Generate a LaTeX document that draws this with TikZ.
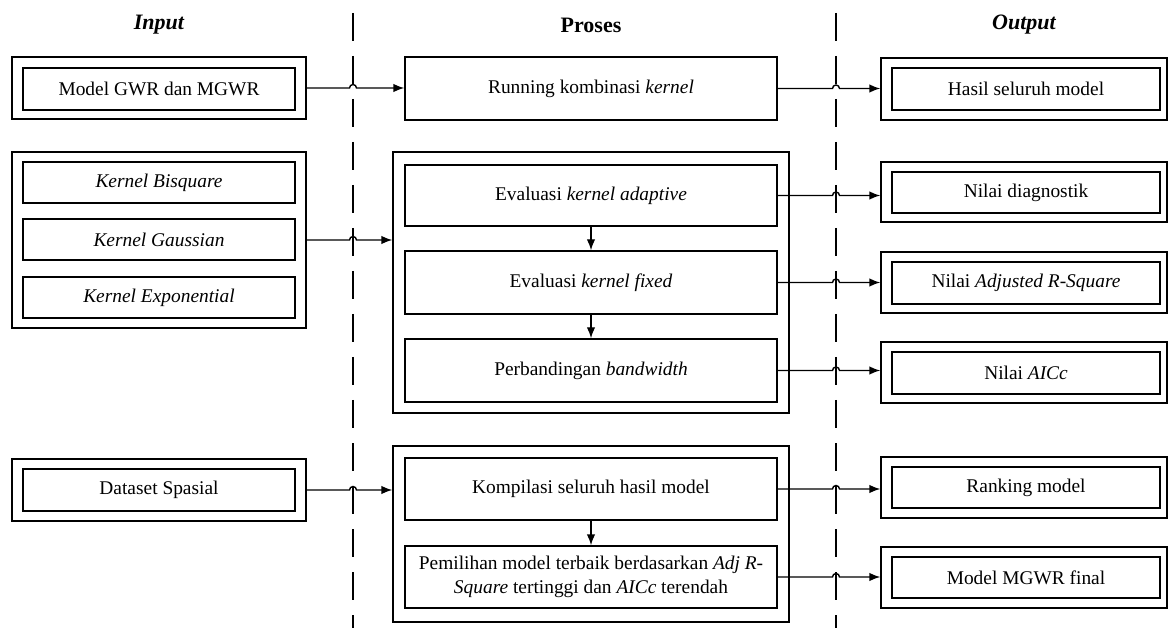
\documentclass[tikz,border=0pt]{standalone}
\usepackage{fontspec}
\setmainfont{Liberation Serif}
\usetikzlibrary{arrows.meta,calc}
\tikzset{
  bx/.style={draw, line width=1.4pt, rectangle, inner sep=2pt, align=center,
    font=\fontsize{19.4}{23.5}\selectfont},
  hdr/.style={font=\fontsize{22}{26}\selectfont\bfseries},
  conn/.style={line width=1.4pt, -{Latex[length=11pt,width=8.5pt]}},
  divider/.style={line width=1.7pt, dash pattern=on 28pt off 15pt},
}
\newcommand\hopto[3]{%
  \draw[conn] (#1) -- ($(#1 -| #3)+(-3.5,0)$) arc[start angle=180,end angle=360,radius=3.5] -- (#1 -| #2);}
\begin{document}
\begin{tikzpicture}[x=1pt,y=-1pt]
\useasboundingbox (0,0) rectangle (1168,628);
% headers
\node[hdr] (hin) at (159,25) {\itshape Input};
\node[hdr] (hpr) at (591,25) {Proses};
\node[hdr] (hout) at (1024,25) {\itshape Output};
% dividers
\coordinate (d1t) at (353,13); \coordinate (d1b) at (353,628);
\coordinate (d2t) at (836,13); \coordinate (d2b) at (836,628);
\draw[divider] (d1t) -- (d1b);
\draw[divider] (d2t) -- (d2b);
% input column
\node[bx, minimum width=294pt, minimum height=62pt] (in1o) at (159,88) {};
\node[bx, minimum width=272pt, minimum height=42pt] (in1) at (159,89) {Model GWR dan MGWR};
\node[bx, minimum width=294pt, minimum height=176pt] (in2o) at (159,240) {};
\node[bx, minimum width=272pt, minimum height=41pt] (in2a) at (159,182.5) {\itshape Kernel Bisquare};
\node[bx, minimum width=272pt, minimum height=41pt] (in2b) at (159,239.5) {\itshape Kernel Gaussian};
\node[bx, minimum width=272pt, minimum height=41pt] (in2c) at (159,297.5) {\itshape Kernel Exponential};
\node[bx, minimum width=294pt, minimum height=62pt] (in3o) at (159,490) {};
\node[bx, minimum width=272pt, minimum height=42pt] (in3) at (159,490) {Dataset Spasial};
% process column
\node[bx, minimum width=372pt, minimum height=63pt] (p1) at (591,88.5) {Running kombinasi \textit{kernel}};
\node[bx, minimum width=396pt, minimum height=261pt] (p2o) at (591,282.5) {};
\node[bx, minimum width=372pt, minimum height=61pt] (p2a) at (591,195.5) {Evaluasi \textit{kernel adaptive}};
\node[bx, minimum width=372pt, minimum height=63pt] (p2b) at (591,282.5) {Evaluasi \textit{kernel fixed}};
\node[bx, minimum width=372pt, minimum height=63pt] (p2c) at (591,370.5) {Perbandingan \textit{bandwidth}};
\node[bx, minimum width=396pt, minimum height=176pt] (p3o) at (591,534) {};
\node[bx, minimum width=372pt, minimum height=62pt] (p3a) at (591,489) {Kompilasi seluruh hasil model};
\node[bx, minimum width=372pt, minimum height=62pt] (p3b) at (591,577) {Pemilihan model terbaik berdasarkan \textit{Adj R-}\\\textit{Square} tertinggi dan \textit{AICc} terendah};
% output column
\node[bx, minimum width=286pt, minimum height=62pt] (o1o) at (1024,89) {};
\node[bx, minimum width=268pt, minimum height=42pt] (o1) at (1026,89) {Hasil seluruh model};
\node[bx, minimum width=286pt, minimum height=60pt] (o2o) at (1024,192) {};
\node[bx, minimum width=268pt, minimum height=41pt] (o2) at (1026,192.5) {Nilai diagnostik};
\node[bx, minimum width=286pt, minimum height=61pt] (o3o) at (1024,282.5) {};
\node[bx, minimum width=268pt, minimum height=42pt] (o3) at (1026,283) {Nilai \textit{Adjusted R-Square}};
\node[bx, minimum width=286pt, minimum height=61pt] (o4o) at (1024,372.5) {};
\node[bx, minimum width=268pt, minimum height=42pt] (o4) at (1026,373) {Nilai \textit{AICc}};
\node[bx, minimum width=286pt, minimum height=61pt] (o5o) at (1024,487.5) {};
\node[bx, minimum width=268pt, minimum height=41pt] (o5) at (1026,487.5) {Ranking model};
\node[bx, minimum width=286pt, minimum height=61pt] (o6o) at (1024,577.5) {};
\node[bx, minimum width=268pt, minimum height=41pt] (o6) at (1026,577.5) {Model MGWR final};
% connectors with hops over the dividers
\hopto{in1o.east}{p1.west}{d1t}
\hopto{p1.east}{o1o.west}{d2t}
\hopto{in2o.east}{p2o.west}{d1t}
\hopto{p2a.east}{o2o.west}{d2t}
\hopto{p2b.east}{o3o.west}{d2t}
\hopto{p2c.east}{o4o.west}{d2t}
\hopto{in3o.east}{p3o.west}{d1t}
\hopto{p3a.east}{o5o.west}{d2t}
\hopto{p3b.east}{o6o.west}{d2t}
% vertical connectors
\draw[conn] (p2a.south) -- (p2b.north);
\draw[conn] (p2b.south) -- (p2c.north);
\draw[conn] (p3a.south) -- (p3b.north);
\end{tikzpicture}
\end{document}
